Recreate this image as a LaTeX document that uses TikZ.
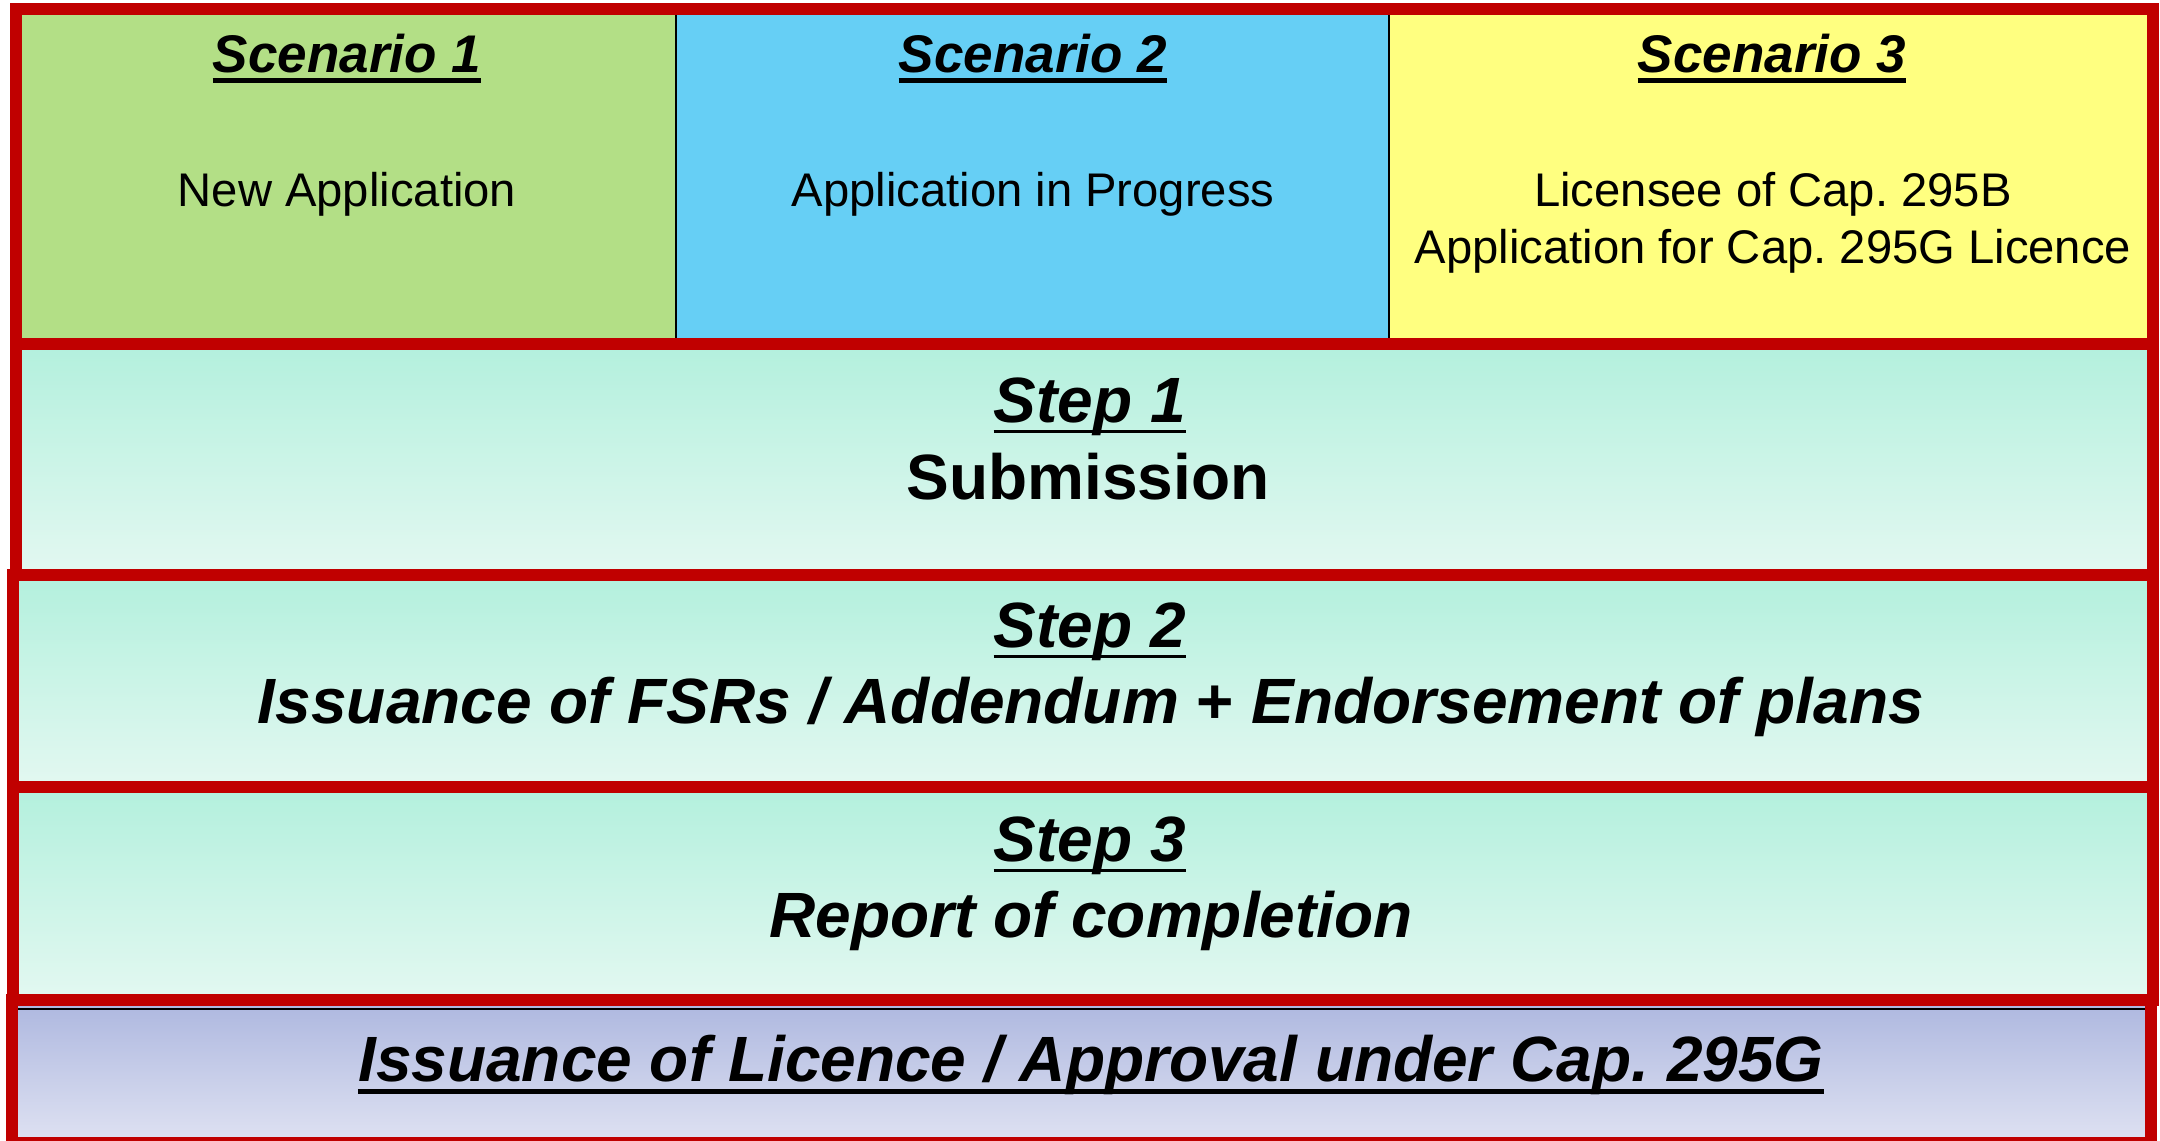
\documentclass[tikz,border=0pt]{standalone}
\usepackage{fontspec}
\setmainfont{Liberation Sans}
\frenchspacing
\definecolor{frame}{HTML}{C00000}
\definecolor{scA}{HTML}{B3DF86}
\definecolor{scB}{HTML}{66CFF5}
\definecolor{scC}{HTML}{FFFF80}
\definecolor{stepTop}{HTML}{B3F0DD}
\definecolor{stepBot}{HTML}{E3F8F1}
\definecolor{finTop}{HTML}{ADB7DF}
\definecolor{finBot}{HTML}{DFE2F2}
\begin{document}
\frenchspacing
\begin{tikzpicture}[x=0.5pt,y=-0.5pt,
  redframe/.style={draw=frame,line width=6pt},
  heading/.style={anchor=base,inner sep=0pt,font=\fontsize{26.5}{30}\selectfont\bfseries\itshape},
  body/.style={anchor=base,inner sep=0pt,font=\fontsize{23.6}{28}\selectfont},
  big/.style={anchor=base,inner sep=0pt,font=\fontsize{32}{38}\selectfont\bfseries\itshape},
  bigup/.style={anchor=base,inner sep=0pt,font=\fontsize{32}{38}\selectfont\bfseries},
  stepfill/.style={top color=stepTop,bottom color=stepBot},
  ulthick/.style={line width=2.5pt},
  ulthin/.style={line width=1.5pt},
]
\useasboundingbox (0,0) rectangle (2160,1141);
\begin{scope}
\clip (0,0) rectangle (2160,1141);
% scenario row
\fill[scA] (16,9) rectangle (676,344);
\fill[scB] (676,9) rectangle (1389,344);
\fill[scC] (1389,9) rectangle (2153,344);
\draw[line width=1.25pt] (676,9) -- (676,344);
\draw[line width=1.25pt] (1389,9) -- (1389,344);
\draw[redframe] (16,9) rectangle (2153,344);
% steps
\path[stepfill] (16,344) rectangle (2153,575);
\draw[redframe] (16,344) rectangle (2153,575);
\path[stepfill] (13,575) rectangle (2153,787);
\draw[redframe] (13,575) rectangle (2153,787);
\path[stepfill] (13,787) rectangle (2153,1000);
\draw[redframe] (13,787) rectangle (2153,1000);
% final
\path[top color=finTop,bottom color=finBot] (12,1000) rectangle (2151,1143);
\draw[redframe] (12,1000) rectangle (2151,1143);
\draw[line width=1pt] (18,1008.5) -- (2145,1008.5);
\end{scope}
% scenario texts
\node[heading] (h1) at (347,72) {Scenario 1};
\node[heading] (h2) at (1033,72) {Scenario 2};
\node[heading] (h3) at (1772,72) {Scenario 3};
\foreach \n in {h1,h2,h3}
  \draw[ulthick] ([yshift=-4.25pt]\n.base west) -- ([yshift=-4.25pt]\n.base east);
\node[body] (b1) at (347,206) {New Application};
\node[body] (b2) at (1033,206) {Application in Progress};
\node[body] (b3a) at (1773,206) {Licensee of Cap. 295B};
\node[body] (b3b) at (1773,263) {Application for Cap. 295G Licence};
% step texts
\node[big] (s1) at (1090,422) {Step 1};
\node[bigup] (t1) at (1088,499) {Submission};
\node[big] (s2) at (1090,647) {Step 2};
\node[big] (t2) at (1091,723) {Issuance of FSRs / Addendum {\upshape+} Endorsement of plans};
\node[big] (s3) at (1090,861) {Step 3};
\node[big] (t3) at (1091,937) {Report of completion};
\foreach \n in {s1,s2,s3}
  \draw[ulthin] ([yshift=-4.5pt]\n.base west) -- ([yshift=-4.5pt]\n.base east);
\node[big] (fin) at (1091,1081) {Issuance of Licence / Approval under Cap. 295G};
\draw[ulthick] ([yshift=-5pt]fin.base west) -- ([yshift=-5pt]fin.base east);
\end{tikzpicture}
\end{document}
